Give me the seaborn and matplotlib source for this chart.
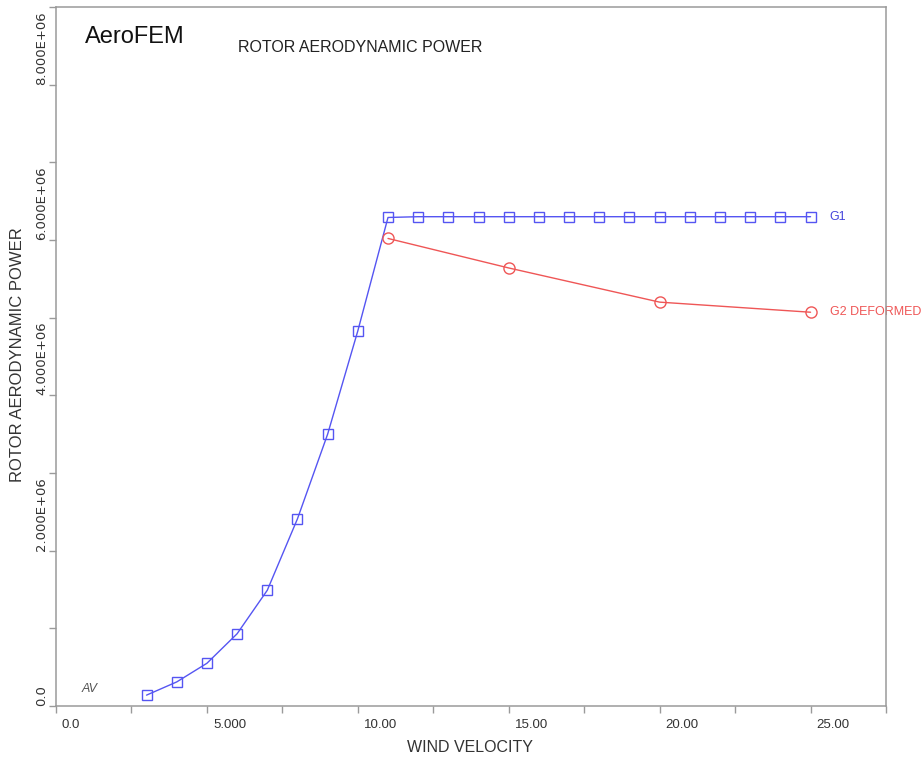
import numpy as np
import pandas as pd
import matplotlib
matplotlib.use("Agg")
import matplotlib.pyplot as plt
import matplotlib.transforms as mtransforms
from matplotlib.ticker import MultipleLocator
import seaborn as sns

# ---------------- data ----------------
wind_g1 = [3, 4, 5, 6, 7, 8, 9, 10, 11, 12, 13, 14, 15, 16, 17, 18, 19, 20, 21, 22, 23, 24, 25]
power_g1 = [0.14e6, 0.31e6, 0.55e6, 0.93e6, 1.49e6, 2.41e6, 3.50e6, 4.83e6, 6.29e6,
            6.30e6, 6.30e6, 6.30e6, 6.30e6, 6.30e6, 6.30e6, 6.30e6, 6.30e6, 6.30e6,
            6.30e6, 6.30e6, 6.30e6, 6.30e6, 6.30e6]
wind_g2 = [11, 15, 20, 25]
power_g2 = [6.02e6, 5.64e6, 5.20e6, 5.07e6]
series_labels = ["G1", "G2 DEFORMED"]
x_ticks = [0, 5, 10, 15, 20, 25]
x_tick_labels = ["0.0", "5.000", "10.00", "15.00", "20.00", "25.00"]
y_ticks = [0, 2e6, 4e6, 6e6, 8e6]
y_tick_labels = ["0.0", "2.000E+06", "4.000E+06", "6.000E+06", "8.000E+06"]

df1 = pd.DataFrame({"wind": wind_g1, "power": power_g1})
df2 = pd.DataFrame({"wind": wind_g2, "power": power_g2})

# ---------------- style ----------------
sns.set_style("white")
plt.rcParams["font.family"] = ["Liberation Sans", "DejaVu Sans"]

BLUE = "#5555f2"
RED = "#ef5656"
GRAY = "#9a9a9a"
TXT = "#333333"

fig = plt.figure(figsize=(9.24, 7.62), dpi=100)
W, H = 924, 762
ax = fig.add_axes([56 / W, 56 / H, 830 / W, 699 / H])

sns.lineplot(data=df1, x="wind", y="power", ax=ax, color=BLUE, linewidth=1.0,
             marker="s", markersize=7.5, markerfacecolor="none",
             markeredgecolor=BLUE, markeredgewidth=1.0, sort=False, estimator=None,
             zorder=3)
sns.lineplot(data=df2, x="wind", y="power", ax=ax, color=RED, linewidth=1.0,
             marker="o", markersize=8, markerfacecolor="none",
             markeredgecolor=RED, markeredgewidth=1.0, sort=False, estimator=None,
             zorder=3)

ax.set_xlim(0, 27.5)
ax.set_ylim(0, 9e6)

ax.set_xticks(x_ticks, x_tick_labels)
ax.set_yticks(y_ticks, y_tick_labels)
ax.xaxis.set_minor_locator(MultipleLocator(2.5))
ax.yaxis.set_minor_locator(MultipleLocator(1e6))

ax.tick_params(which="both", bottom=True, left=True, top=False, right=False,
               direction="out", length=5, width=1, color=GRAY)
ax.tick_params(axis="x", which="major", labelsize=9.5, labelcolor=TXT, pad=4)
ax.tick_params(axis="y", which="major", labelsize=9.5, labelcolor=TXT, pad=0.5)

shift = mtransforms.ScaledTranslation(6 / 100, 0, fig.dpi_scale_trans)
for lbl in ax.get_xticklabels():
    lbl.set_horizontalalignment("left")
    lbl.set_transform(lbl.get_transform() + shift)
for lbl in ax.get_yticklabels():
    lbl.set_rotation(90)
    lbl.set_verticalalignment("bottom")
    lbl.set_fontfamily("DejaVu Sans")

for sp in ax.spines.values():
    sp.set_visible(True)
    sp.set_color(GRAY)
    sp.set_linewidth(1.1)

ax.set_xlabel("WIND VELOCITY", fontsize=11.5, color=TXT)
ax.set_ylabel("ROTOR AERODYNAMIC POWER", fontsize=12, color=TXT)
ax.xaxis.set_label_coords((470 - 56) / 830, (706 - 748) / 699)
ax.xaxis.label.set_verticalalignment("center")
ax.yaxis.set_label_coords((18 - 56) / 830, (706 - 355) / 699)
ax.yaxis.label.set_verticalalignment("center")

# series labels at end of lines
ax.annotate(series_labels[0], xy=(wind_g1[-1], power_g1[-1]), xytext=(19, 0),
            textcoords="offset pixels", va="center", ha="left", fontsize=9,
            color="#4646dc", annotation_clip=False, zorder=1)
ax.annotate(series_labels[1], xy=(wind_g2[-1], power_g2[-1]), xytext=(19, 0),
            textcoords="offset pixels", va="center", ha="left", fontsize=9,
            color=RED, annotation_clip=False, zorder=1)

# header texts
fig.text(85 / W, 1 - 37 / H, "AeroFEM", fontsize=17, va="center", ha="left", color="#111111")
fig.text(238 / W, 1 - 47 / H, "ROTOR AERODYNAMIC POWER", fontsize=11.5, va="center",
         ha="left", color="#222222")
fig.text(82 / W, 1 - 689 / H, "AV", fontsize=9, style="italic", va="center", ha="left",
         color="#555555")

fig.savefig("out.png", dpi=100)
